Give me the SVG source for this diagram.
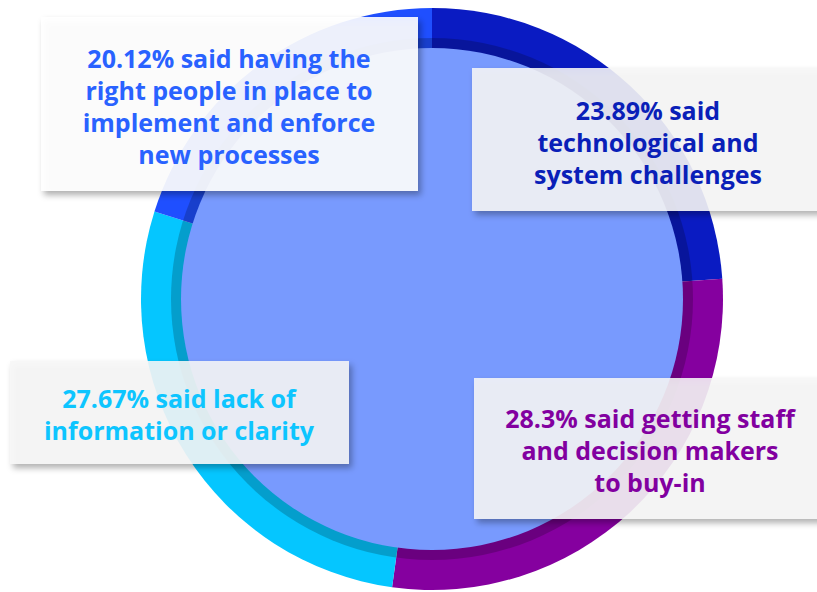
<svg xmlns="http://www.w3.org/2000/svg" width="817" height="592" viewBox="0 0 817 592">
<defs>
<filter id="sh" x="-10%" y="-20%" width="120%" height="150%">
<feDropShadow dx="3" dy="4" stdDeviation="3" flood-color="#000" flood-opacity="0.35"/>
</filter>
</defs>
<style>
.lbl{font-family:"Open Sans","Liberation Sans",sans-serif;font-weight:700;font-size:25px;text-anchor:middle}
.box{fill:#F7F7F7;fill-opacity:0.88;filter:url(#sh)}
</style>
<rect width="817" height="592" fill="#fff"/>
<g id="donut">
<path d="M432,299 L432,8 A291,291 0 0 1 722.29,278.72 Z" fill="#0A1BC2"/>
<path d="M432,299 L722.29,278.72 A291,291 0 0 1 392.09,587.25 Z" fill="#85009F"/>
<path d="M432,299 L392.09,587.25 A291,291 0 0 1 154.46,211.51 Z" fill="#05C6FF"/>
<path d="M432,299 L154.46,211.51 A291,291 0 0 1 432,8 Z" fill="#1F4FFF"/>
<circle cx="432" cy="299" r="261" fill="#000" fill-opacity="0.2"/>
<circle cx="432" cy="299" r="251" fill="#789AFE"/>
</g>
<g id="label-2012">
<rect class="box" x="41" y="17" width="377" height="174" style="fill:#fff;fill-opacity:0.9"/>
<text class="lbl" fill="#2962FF" x="229" y="68">20.12% said having the</text>
<text class="lbl" fill="#2962FF" x="229" y="100">right people in place to</text>
<text class="lbl" fill="#2962FF" x="229" y="132">implement and enforce</text>
<text class="lbl" fill="#2962FF" x="229" y="164">new processes</text>
</g>
<g id="label-2389">
<rect class="box" x="472" y="68" width="360" height="143"/>
<text class="lbl" fill="#0A1FB8" x="648" y="120">23.89% said</text>
<text class="lbl" fill="#0A1FB8" x="648" y="152">technological and</text>
<text class="lbl" fill="#0A1FB8" x="648" y="184">system challenges</text>
</g>
<g id="label-2767">
<rect class="box" x="10" y="361" width="339" height="103"/>
<text class="lbl" fill="#0DC5FF" x="179" y="408">27.67% said lack of</text>
<text class="lbl" fill="#0DC5FF" x="179" y="440">information or clarity</text>
</g>
<g id="label-283">
<rect class="box" x="474" y="378" width="360" height="141"/>
<text class="lbl" fill="#8200A0" x="650" y="428">28.3% said getting staff</text>
<text class="lbl" fill="#8200A0" x="650" y="460">and decision makers</text>
<text class="lbl" fill="#8200A0" x="650" y="492">to buy-in</text>
</g>
</svg>
